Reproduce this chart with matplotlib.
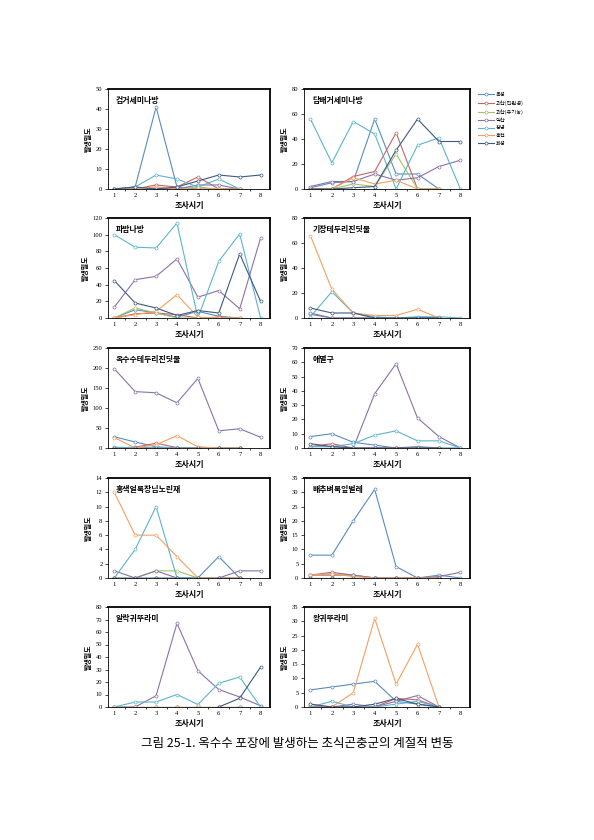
import numpy as np
import matplotlib
matplotlib.use('Agg')
import matplotlib.pyplot as plt

plt.rcParams['font.family'] = ['Noto Sans CJK KR', 'DejaVu Sans']

nan = np.nan
x = [1, 2, 3, 4, 5, 6, 7, 8]
sites = ['옥성', '괴산(친환경)', '괴산(유기농)', '익산', '창녕', '홍천', '화성']
colors = ['#5b8bc0', '#c86563', '#a5c36c', '#8a72a8', '#5cb5cc', '#f5a061', '#3d5a80']

# each panel: title, y max, y step, one row per site (옥성 ... 화성)
p1_title = '검거세미나방'
p1 = [[0, 1, 41, 1, 0, 0, 0, nan],
      [0, 0, 2, 1, 6, 0, 0, nan],
      [0, 0, 0, 0, 1, 0, 0, nan],
      [0, 0, 0, 0, 2, 2, 0, nan],
      [0, 1, 7, 5, 1, 5, 0, nan],
      [0, 0, 1, 0, 0, 0, 0, nan],
      [0, 1, 0, 1, 4, 7, 6, 7]]

p2_title = '담배거세미나방'
p2 = [[1, 5, 6, 56, 12, 12, 0, nan],
      [0, 0, 10, 14, 45, 0, 0, nan],
      [0, 0, 4, 2, 28, 0, 0, nan],
      [2, 6, 6, 12, 7, 9, 18, 23],
      [56, 21, 54, 44, 0, 35, 41, 0],
      [0, 0, 9, 4, 7, 0, 0, nan],
      [0, 0, 1, 2, 31, 56, 38, 38]]

p3_title = '파밤나방'
p3 = [[0, 10, 6, 1, 8, 2, 0, nan],
      [0, 5, 6, 4, 0, 1, 0, nan],
      [0, 12, 6, 0, 0, 0, 0, nan],
      [13, 46, 50, 71, 25, 33, 11, 96],
      [100, 85, 84, 114, 0, 68, 101, 0],
      [0, 4, 8, 28, 1, 0, 0, nan],
      [45, 18, 12, 3, 9, 6, 77, 20]]

p4_title = '기장테두리진딧물'
p4 = [[3, 0, 0, 0, 0, 0, 0, nan],
      [0, 0, 0, 0, 0, 0, 0, nan],
      [0, 0, 0, 0, 0, 0, 0, nan],
      [4, 0, 0, 0, 0, 0, 0, nan],
      [1, 21, 4, 1, 0, 1, 1, 0],
      [66, 23, 4, 2, 2, 7, 0, nan],
      [8, 4, 4, 0, 0, 0, 0, nan]]

p5_title = '옥수수테두리진딧물'
p5 = [[28, 15, 3, 0, 0, 0, 0, nan],
      [0, 2, 12, 1, 0, 0, 0, nan],
      [0, 0, 0, 0, 0, 0, 0, nan],
      [198, 141, 138, 113, 174, 43, 48, 27],
      [2, 1, 1, 0, 0, 0, 0, nan],
      [26, 0, 8, 31, 3, 0, 0, nan],
      [0, 0, 0, 0, 0, 0, 0, nan]]

p6_title = '애멸구'
p6 = [[8, 10, 4, 2, 0, 1, 0, 0],
      [1, 3, 0, 0, 0, 0, 0, nan],
      [0, 0, 0, 0, 0, 0, 0, nan],
      [1, 1, 0, 38, 59, 21, 8, 0],
      [1, 1, 3, 9, 12, 5, 5, 0],
      [0, 0, 0, 0, 0, 0, 0, nan],
      [3, 1, 0, 0, 0, 0, 0, nan]]

p7_title = '홍색얼룩장님노린재'
p7 = [[0, 0, 0, 0, 0, 3, 0, nan],
      [0, 0, 0, 0, 0, 0, 0, nan],
      [0, 0, 1, 1, 0, 0, 0, nan],
      [1, 0, 1, 0, 0, 0, 1, 1],
      [0, 4, 10, 0, 0, 0, 0, nan],
      [12, 6, 6, 3, 0, 0, 0, nan],
      [0, 0, 0, 0, 0, 0, 0, nan]]

p8_title = '배추벼룩잎벌레'
p8 = [[8, 8, 20, 31, 4, 0, 1, 0],
      [1, 1, 1, 0, 0, 0, 0, nan],
      [1, 1.5, 1, 0, 0, 0, 0, nan],
      [1, 2, 1, 0, 0, 0, 0.5, 2],
      [0, 0, 0, 0, 0, 0, 0, nan],
      [1, 1.5, 0.5, 0, 0, 0, 0, nan],
      [0, 0, 0, 0, 0, 0, 0, nan]]

p9_title = '알락귀뚜라미'
p9 = [[0, 0, 0, 0, 0, 0, 0, nan],
      [0, 0, 0, 0, 0, 0, 0, nan],
      [0, 0, 0, 0, 0, 0, 0, nan],
      [0, 0, 9, 67, 29, 14, 8, 1],
      [0, 4, 4, 10, 2, 19, 24, 0],
      [0, 0, 0, 0, 0, 0, 0, nan],
      [nan, nan, nan, nan, nan, 0, 7, 32]]

p10_title = '왕귀뚜라미'
p10 = [[6, 7, 8, 9, 2, 1, 0, nan],
       [0, 0, 0, 0, 3, 2.5, 0, nan],
       [0, 0, 0, 0, 0, 0, 0, nan],
       [0, 0, 1, 0, 2, 4, 0, nan],
       [0, 2, 0, 0, 1, 2, 0, nan],
       [1, 0, 5, 31, 8, 22, 0, nan],
       [1, 0, 0, 1, 3, 1, 0, nan]]

panels = [(p1_title, p1, 50, 10), (p2_title, p2, 80, 20),
          (p3_title, p3, 120, 20), (p4_title, p4, 80, 20),
          (p5_title, p5, 250, 50), (p6_title, p6, 70, 10),
          (p7_title, p7, 14, 2), (p8_title, p8, 35, 5),
          (p9_title, p9, 80, 10), (p10_title, p10, 35, 5)]

W, H = 594, 840
fig = plt.figure(figsize=(W / 100, H / 100), dpi=100)

col_x = [(108, 270), (304, 470)]
row_top = [89, 218, 348, 478, 607]
ax_h = 100
serif = 'Liberation Serif'

for k, (title, data, ymax, ystep) in enumerate(panels):
    r, c = k // 2, k % 2
    x0, x1 = col_x[c]
    top = row_top[r]
    ax = fig.add_axes([x0 / W, 1 - (top + ax_h) / H, (x1 - x0) / W, ax_h / H])
    for s in range(len(sites)):
        ax.plot(x, data[s], color=colors[s], lw=0.8, marker='o', ms=2.2,
                mfc='white', mec=colors[s], mew=0.5, label=sites[s])
    ax.set_xlim(0.7, 8.45)
    ax.set_ylim(0, ymax)
    ax.set_yticks(np.arange(0, ymax + 0.1, ystep))
    ax.set_xticks(x)
    ax.set_xticks(np.arange(1.5, 8.5, 1), minor=True)
    ax.tick_params(axis='x', which='major', length=0, pad=3)
    ax.tick_params(axis='x', which='minor', length=1.5, width=0.5, direction='out')
    ax.tick_params(axis='y', length=2, width=0.5, direction='out', pad=2)
    for lab in ax.get_xticklabels() + ax.get_yticklabels():
        lab.set_fontfamily(serif)
        lab.set_fontsize(4.7)
    for side in ['left', 'bottom']:
        ax.spines[side].set_linewidth(0.6)
    for side in ['top', 'right']:
        ax.spines[side].set_linewidth(1.3)
    ax.text(0.05, 0.93, title, transform=ax.transAxes, fontsize=5.7,
            fontweight='bold', va='top', ha='left')
    ax.set_xlabel('조사시기', fontsize=5.8, fontweight='bold', labelpad=2)
    ax.set_ylabel('발생밀도', fontsize=5, fontweight='bold', labelpad=3)
    if k == 1:
        handles, labels = ax.get_legend_handles_labels()

fig.legend(handles, labels, loc='upper left', bbox_to_anchor=(476 / W, 1 - 90 / H),
           frameon=False, fontsize=3.8, handlelength=3, handletextpad=0.4,
           labelspacing=0.55, borderaxespad=0)

fig.text(297 / W, 1 - 744 / H, '그림 25-1. 옥수수 포장에 발생하는 초식곤충군의 계절적 변동',
         ha='center', va='center', fontsize=9)

fig.savefig('out.png', dpi=100)
